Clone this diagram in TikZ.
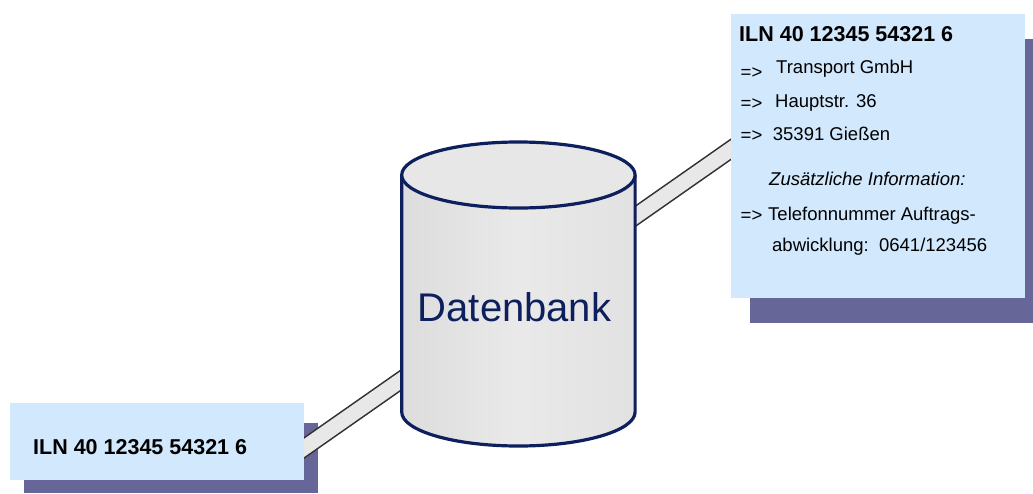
\documentclass[tikz,border=0pt]{standalone}
\usepackage{fontspec}
\setmainfont{Liberation Sans}
\definecolor{boxblue}{HTML}{D2E8FC}
\definecolor{shadowc}{HTML}{666699}
\definecolor{navy}{HTML}{0D1F5C}
\definecolor{bandfill}{HTML}{E8E8E8}
\definecolor{bandline}{HTML}{333333}
\tikzset{
  infobox/.style={fill=boxblue, draw=none, rectangle, inner sep=0pt, anchor=north west},
  boxshadow/.style={fill=shadowc},
  band/.style={draw=bandline, line width=1.6pt, double=bandfill, double distance=14.8pt},
  cylline/.style={draw=navy, line width=3.2pt, line join=round},
  txt/.style={inner sep=0pt, anchor=base west, font=\fontsize{18.5}{22}\selectfont, text=black},
  head/.style={inner sep=0pt, anchor=base west, font=\fontsize{21.5}{26}\selectfont\bfseries, text=black},
  arrowtxt/.style={txt}
}
\begin{document}
\begin{tikzpicture}[x=1pt,y=-1pt]
\useasboundingbox (0,0) rectangle (1033,493);

% drop shadows of the two boxes
\fill[boxshadow] (24,423) rectangle (318,493);
\fill[boxshadow] (750,39) rectangle (1033,323);

% link band running behind the database
\coordinate (bandA) at (290,457.8);
\coordinate (bandB) at (745,139.5);
\draw[band] (bandA) -- (bandB);

% the two address boxes
\node[infobox, minimum width=294pt, minimum height=77pt] (iln) at (10,403) {};
\node[infobox, minimum width=294pt, minimum height=284pt] (addr) at (731,14) {};

% database cylinder
\shade[left color=gray!27, right color=gray!23, middle color=gray!17]
  (401.7,175) -- (401.7,412) arc[start angle=180, end angle=360, x radius=116.7pt, y radius=34pt]
  -- (635.1,175) -- cycle;
\draw[cylline] (401.7,175) -- (401.7,412) arc[start angle=180, end angle=360, x radius=116.7pt, y radius=34pt]
  -- (635.1,175);
\draw[cylline, fill=gray!19] (518.4,175) ellipse [x radius=116.7pt, y radius=33pt];
\node[inner sep=0pt, anchor=base, font=\fontsize{40}{48}\selectfont, text=navy] (db) at (514.5,321.7) {Datenbank};

% texts of the small box
\node[head] (ilnA) at (33,454) {ILN 40 12345 54321 6};

% texts of the address box
\node[head] (ilnB) at (739,41.7) {ILN 40 12345 54321 6};
\node[arrowtxt] (a1) at (740.5,78) {=>};
\node[txt] (t1) at (776,73.3) {Transport GmbH};
\node[arrowtxt] (a2) at (740.5,109.7) {=>};
\node[txt] (t2) at (775,107) {Hauptstr. 36};
\node[arrowtxt] (a3) at (740.5,141) {=>};
\node[txt] (t3) at (772.7,140.7) {35391 Gießen};
\node[txt, font=\fontsize{18.5}{22}\selectfont\itshape] (t4) at (769,185) {Zusätzliche Information:};
\node[arrowtxt] (a4) at (740.5,221) {=>};
\node[txt] (t5) at (768,220) {Telefonnummer Auftrags-};
\node[txt] (t6) at (772,251.7) {abwicklung:\ \ 0641/123456};
\end{tikzpicture}
\end{document}
